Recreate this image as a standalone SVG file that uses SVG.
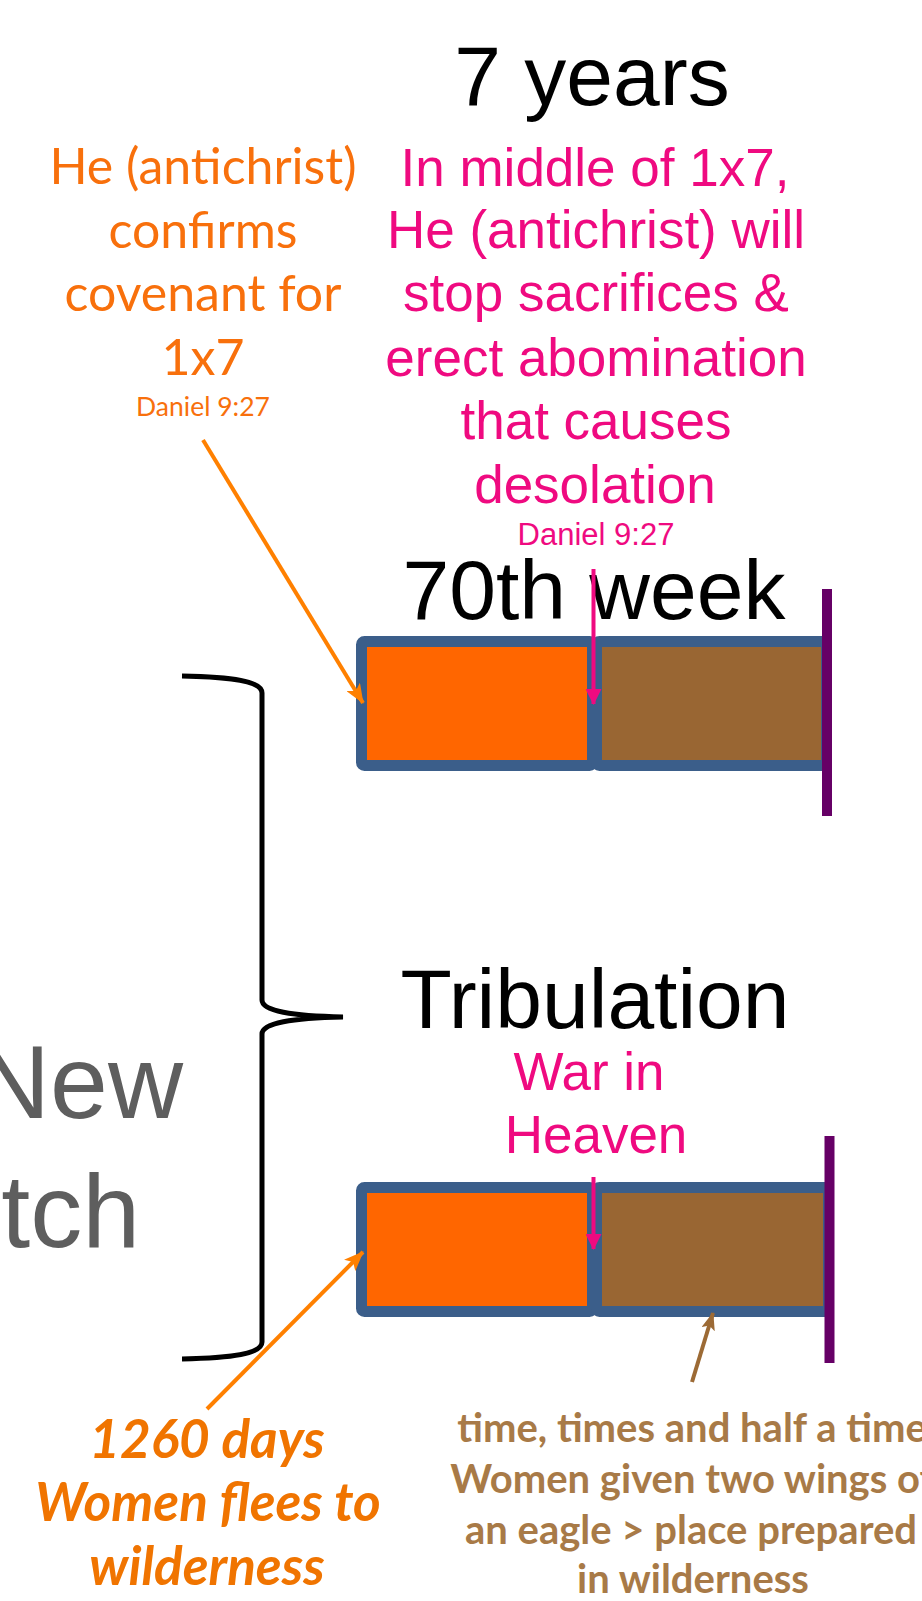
<svg xmlns="http://www.w3.org/2000/svg" width="922" height="1601" viewBox="0 0 922 1601">
<style>
.title{font-family:"Liberation Sans",Arial,sans-serif;font-size:84px;fill:#000;text-anchor:middle}
.pink{font-family:"Liberation Sans",Arial,sans-serif;font-size:53px;fill:#EF0A80;text-anchor:middle}
.pinks{font-family:"Liberation Sans",Arial,sans-serif;font-size:31px;fill:#EF0A80;text-anchor:middle}
.org{font-family:Lato,"Open Sans",sans-serif;font-size:50px;fill:#F8700C;text-anchor:middle}
.orgs{font-family:Lato,"Open Sans",sans-serif;font-size:26.5px;fill:#F8700C;text-anchor:middle}
.orgb{font-family:Lato,"Open Sans",sans-serif;font-size:53px;font-weight:bold;font-style:italic;fill:#F07400;text-anchor:middle}
.brn{font-family:Lato,"Open Sans",sans-serif;font-size:40px;font-weight:bold;fill:#A87A47;text-anchor:middle}
.gray{font-family:"Liberation Sans",Arial,sans-serif;font-size:104px;fill:#5E5E5E;text-anchor:end}
.frame{stroke:#3B5E8A;stroke-width:11;stroke-linejoin:round}
.purple{stroke:#660066;stroke-width:10}
</style>
<defs>
<marker id="ahO" viewBox="0 0 20 16" refX="19" refY="8" markerWidth="20" markerHeight="16" markerUnits="userSpaceOnUse" orient="auto"><path d="M0,0 L20,8 L0,16 L5,8 z" fill="#FF8000"/></marker>
<marker id="ahP" viewBox="0 0 16 16" refX="15" refY="8" markerWidth="16" markerHeight="16" markerUnits="userSpaceOnUse" orient="auto"><path d="M0,0 L16,8 L0,16 z" fill="#EF0A80"/></marker>
<marker id="ahB" viewBox="0 0 18 14" refX="17" refY="7" markerWidth="18" markerHeight="14" markerUnits="userSpaceOnUse" orient="auto"><path d="M0,0 L18,7 L0,14 L4,7 z" fill="#9C6A35"/></marker>
</defs>
<rect width="922" height="1601" fill="#fff"/>

<g id="gray-text">
<text class="gray" x="183" y="1118">New</text>
<text class="gray" x="140" y="1247">tch</text>
</g>

<g id="title-7years"><text class="title" x="592" y="105">7 years</text></g>

<g id="note-confirms">
<text class="org" x="203" y="184">He (antichrist)</text>
<text class="org" x="203" y="248">confirms</text>
<text class="org" x="203" y="311">covenant for</text>
<text class="org" x="203" y="375">1x7</text>
<text class="orgs" x="203" y="416">Daniel 9:27</text>
</g>

<g id="note-middle">
<text class="pink" x="595" y="186">In middle of 1x7,</text>
<text class="pink" x="596" y="248">He (antichrist) will</text>
<text class="pink" x="596" y="311">stop sacrifices &amp;</text>
<text class="pink" x="596" y="376">erect abomination</text>
<text class="pink" x="596" y="439">that causes</text>
<text class="pink" x="595" y="503">desolation</text>
<text class="pinks" x="596" y="545">Daniel 9:27</text>
</g>

<g id="title-70th"><text class="title" x="594" y="619">70th week</text></g>

<g id="bar-70th">
<rect class="frame" x="361.5" y="641.5" width="231" height="124" rx="3" fill="#FF6600"/>
<rect class="frame" x="596.5" y="641.5" width="230" height="124" rx="3" fill="#996633"/>
<line class="purple" x1="827" y1="589" x2="827" y2="816"/>
</g>

<g id="title-trib"><text class="title" x="595" y="1028">Tribulation</text></g>

<g id="note-war">
<text class="pink" x="589" y="1090">War in</text>
<text class="pink" x="596" y="1153">Heaven</text>
</g>

<g id="bar-trib">
<rect class="frame" x="361.5" y="1187.5" width="231" height="124" rx="3" fill="#FF6600"/>
<rect class="frame" x="596.5" y="1187.5" width="232" height="124" rx="3" fill="#996633"/>
<line class="purple" x1="829.5" y1="1136" x2="829.5" y2="1363"/>
</g>

<g id="brace">
<path d="M182,676 C232,677 262,681 262,693 L262,1000 C262,1011 292,1016 343,1017 C292,1018 262,1023 262,1034 L262,1342 C262,1354 232,1358 182,1359" fill="none" stroke="#000" stroke-width="5"/>
</g>

<g id="note-1260">
<text class="orgb" x="207" y="1458">1260 days</text>
<text class="orgb" x="208" y="1521">Women flees to</text>
<text class="orgb" x="207" y="1585">wilderness</text>
</g>

<g id="note-time">
<text class="brn" x="692" y="1442">time, times and half a time</text>
<text class="brn" x="692" y="1493">Women given two wings of</text>
<text class="brn" x="691" y="1544">an eagle &gt; place prepared</text>
<text class="brn" x="693" y="1593">in wilderness</text>
</g>

<g id="connectors" fill="none">
<line x1="203" y1="440" x2="363" y2="703" stroke="#FF8000" stroke-width="4" marker-end="url(#ahO)"/>
<line x1="593.5" y1="569" x2="593.5" y2="704" stroke="#EF0A80" stroke-width="4" marker-end="url(#ahP)"/>
<line x1="593.5" y1="1177" x2="593.5" y2="1249" stroke="#EF0A80" stroke-width="4" marker-end="url(#ahP)"/>
<line x1="207" y1="1409" x2="363" y2="1252" stroke="#FF8000" stroke-width="4" marker-end="url(#ahO)"/>
<line x1="692" y1="1382" x2="713" y2="1313" stroke="#9C6A35" stroke-width="4" marker-end="url(#ahB)"/>
</g>
</svg>
